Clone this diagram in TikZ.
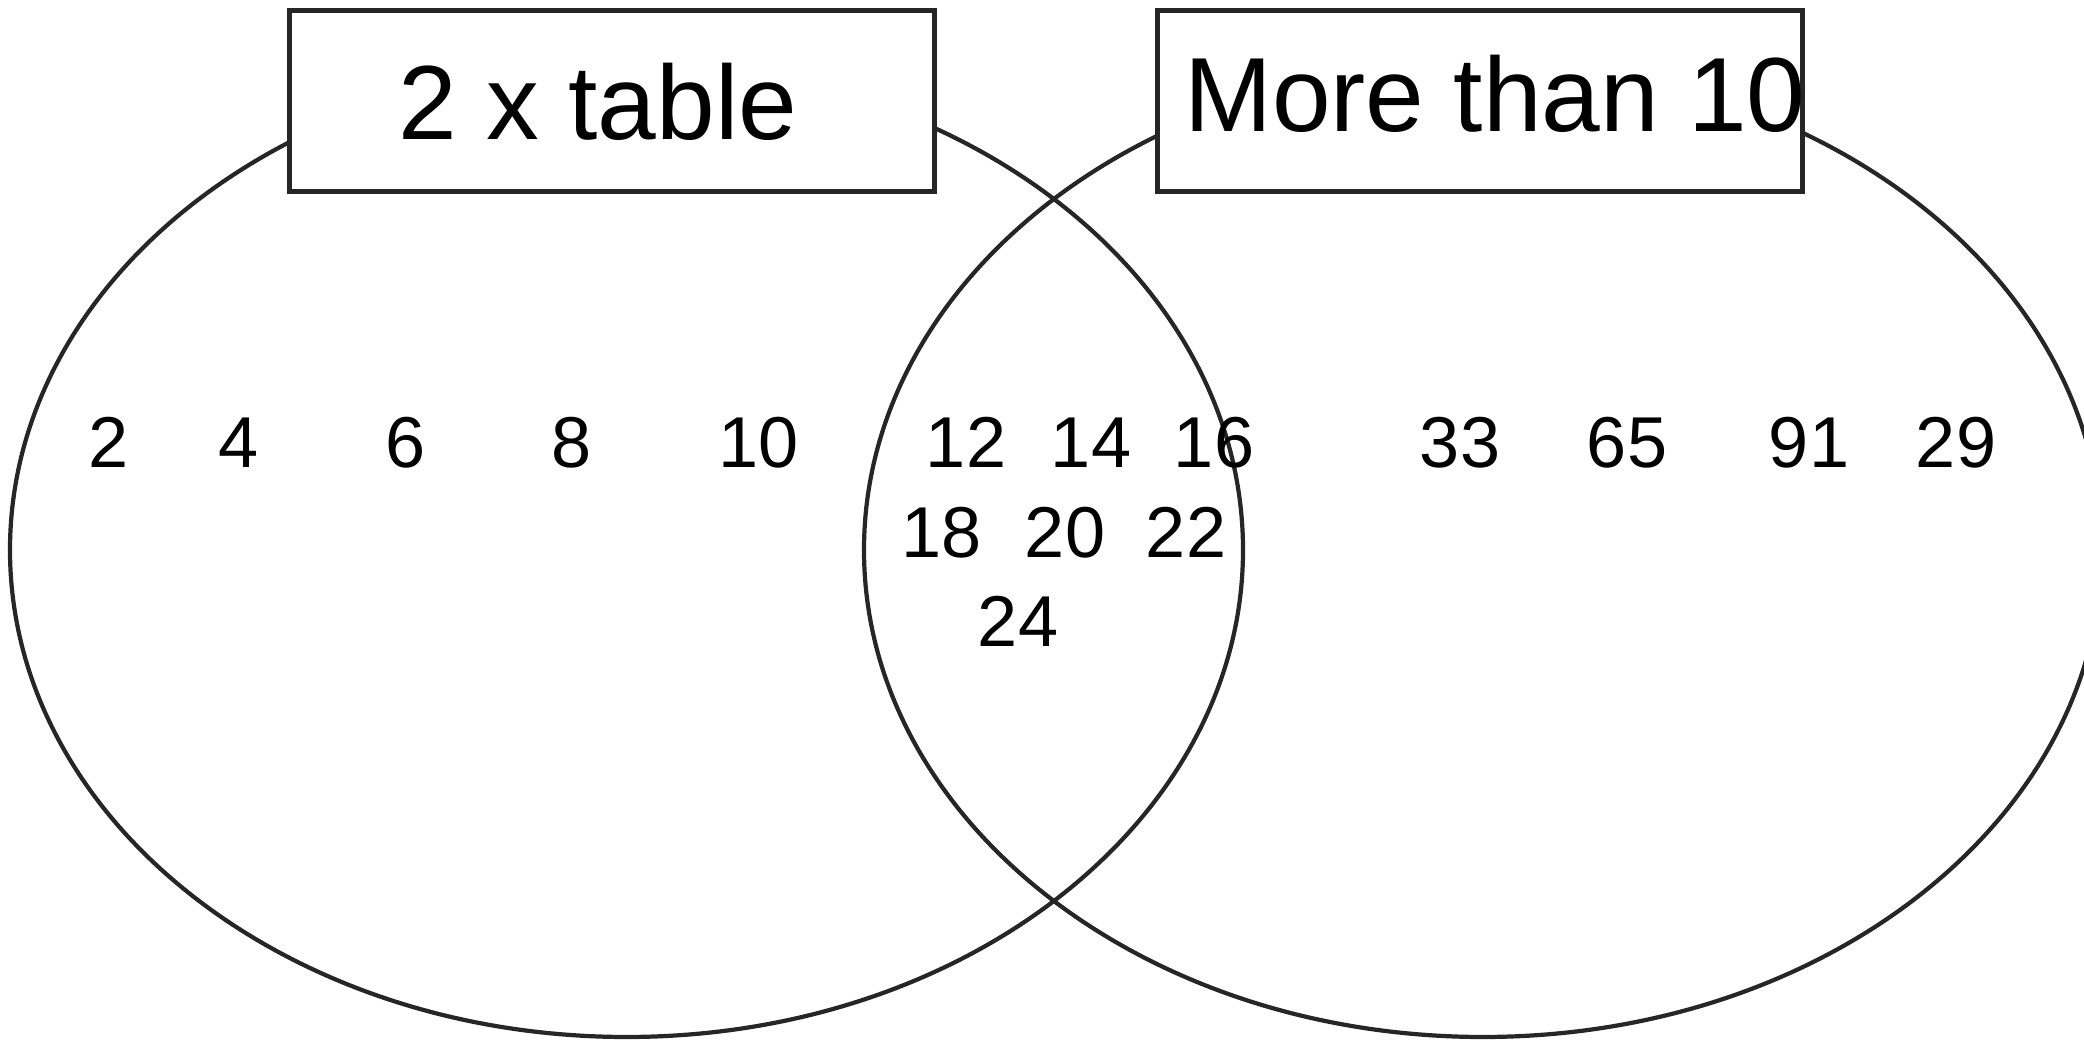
\documentclass[tikz,border=0pt]{standalone}
\usepackage{fontspec}
\setmainfont{Liberation Sans}
\usetikzlibrary{shapes.geometric}
\newcommand{\membersize}{\fontsize{20.5}{24}\selectfont}
\newcommand{\setnamesize}{\fontsize{30}{36}\selectfont}

\begin{document}
\begin{tikzpicture}[x = 1cm, y = 1cm, setline/.style = {ellipse, draw = black!85, line width = 1.2pt, minimum width = 12.33cm, minimum height = 9.74cm, inner sep = 0pt}, setbox/.style = {rectangle, draw = black!85, fill = white, line width = 1.4pt, minimum width = 6.45cm, minimum height = 1.81cm, inner sep = 0pt}, setname/.style = {anchor = base, inner sep = 0pt, font = \setnamesize}, member/.style = {anchor = base, inner sep = 0pt, font = \membersize}]

	\useasboundingbox (0, 0) rectangle (20.84, 10.40);

	\node (EVEN) at ( 6.265, 4.90) [setline] {};
	\node (BIG)  at (14.83,  4.90) [setline, minimum width = 12.38cm] {};
	\node (EVENbox) at ( 6.12, 9.387) [setbox] {};
	\node (BIGbox)  at (14.80, 9.387) [setbox] {};
	\node (EVENname) at ( 5.98, 9.00) [setname] {2 x table};
	\node (BIGname)  at (14.95, 9.08) [setname] {More than 10};

    \foreach \num/\x/\y in {2/1.09/5.72, 4/2.39/5.72, 6/4.06/5.72, 8/5.72/5.72, 10/7.59/5.72, 12/9.66/5.72, 14/10.91/5.72, 16/12.14/5.72,
    33/14.60/5.72, 65/16.27/5.72, 91/18.09/5.72, 29/19.56/5.72, 18/9.42/4.82, 20/10.65/4.82, 22/11.86/4.82, 24/10.18/3.93}
    	\node (n\num) at (\x, \y) [member] {\num};

\end{tikzpicture}
\end{document}
